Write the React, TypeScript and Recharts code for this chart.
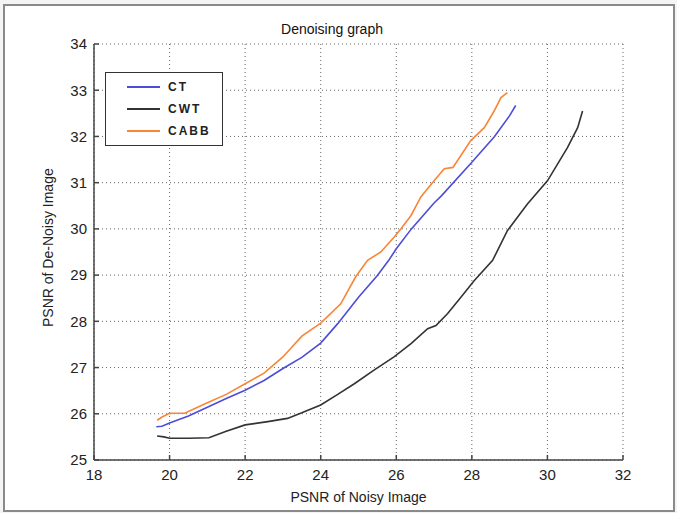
import React from "react";
import {
  LineChart,
  Line,
  XAxis,
  YAxis,
  CartesianGrid,
} from "recharts";

// values (PSNR in dB)
const ctX = [19.65, 19.8, 20, 20.5, 21, 21.5, 22, 22.5, 23, 23.5, 24, 24.45, 25, 25.5, 25.8, 26, 26.4, 27, 27.2, 28, 28.6, 29, 29.16];
const ctY = [25.72, 25.73, 25.8, 25.95, 26.14, 26.33, 26.51, 26.72, 26.98, 27.22, 27.53, 27.95, 28.52, 28.99, 29.32, 29.57, 30.0, 30.56, 30.72, 31.44, 32.0, 32.45, 32.67];

const cwtX = [19.67, 19.85, 20, 20.5, 21.04, 21.5, 22, 22.6, 23.12, 23.5, 24, 24.45, 24.89, 25.4, 25.94, 26.39, 26.83, 27.05, 27.36, 27.71, 28.06, 28.55, 28.94, 29.47, 30.0, 30.53, 30.8, 30.93];
const cwtY = [25.52, 25.5, 25.47, 25.47, 25.48, 25.62, 25.76, 25.83, 25.9, 26.02, 26.19, 26.42, 26.65, 26.94, 27.23, 27.52, 27.84, 27.91, 28.17, 28.52, 28.88, 29.32, 29.96, 30.54, 31.04, 31.76, 32.19, 32.55];

const cabbX = [19.67, 19.8, 20, 20.4, 21, 21.5, 22, 22.5, 23, 23.5, 24, 24.53, 24.93, 25.24, 25.59, 25.94, 26.12, 26.39, 26.65, 27.0, 27.27, 27.5, 27.97, 28.33, 28.59, 28.77, 28.94];
const cabbY = [25.86, 25.93, 26.01, 26.01, 26.24, 26.42, 26.65, 26.88, 27.23, 27.68, 27.96, 28.38, 28.97, 29.32, 29.5, 29.82, 30.0, 30.29, 30.69, 31.04, 31.3, 31.33, 31.91, 32.19, 32.55, 32.84, 32.95];

const xTicks = [18, 20, 22, 24, 26, 28, 30, 32];
const yTicks = [25, 26, 27, 28, 29, 30, 31, 32, 33, 34];

const seriesNames = ["CT", "CWT", "CABB"];
const seriesColors = ["#4c4cd8", "#333333", "#f98536"];

const toPoints = (xs: number[], ys: number[]) => xs.map((x, i) => ({ x, y: ys[i] }));

const ctData = toPoints(ctX, ctY);
const cwtData = toPoints(cwtX, cwtY);
const cabbData = toPoints(cabbX, cabbY);

const FONT = "'Liberation Sans', Arial, sans-serif";

function LegendBox() {
  return (
    <div
      style={{
        position: "absolute",
        left: 105,
        top: 72,
        border: "1.5px solid #333",
        background: "#fff",
        width: 118,
        height: 74,
        boxSizing: "border-box",
        padding: "3px 0 0 21px",
        fontFamily: FONT,
      }}
    >
      {seriesNames.map((n, i) => (
        <div key={n} style={{ display: "flex", alignItems: "center", height: 22 }}>
          <span style={{ display: "inline-block", width: 33, height: 0, borderTop: `2px solid ${seriesColors[i]}` }} />
          <span style={{ marginLeft: 8, fontSize: 12, fontWeight: "bold", letterSpacing: 2, color: "#222" }}>{n}</span>
        </div>
      ))}
    </div>
  );
}

export default function App() {
  return (
    <div
      style={{
        position: "absolute",
        left: 0,
        top: 0,
        width: 677,
        height: 513,
        background: "#f4f4f4",
      }}
    >
      <div
        style={{
          position: "absolute",
          left: 3,
          top: 4,
          width: 668,
          height: 504,
          border: "2px solid #8a8a8a",
          background: "#fff",
        }}
      />
      <div
        style={{
          position: "absolute",
          left: 0,
          top: 21,
          width: 664,
          textAlign: "center",
          fontFamily: FONT,
          fontSize: 14,
          color: "#111",
        }}
      >
        Denoising graph
      </div>
      <div style={{ position: "absolute", left: 0, top: 0 }}>
        <LineChart width={677} height={513} margin={{ top: 44, right: 54, bottom: 23, left: 34 }}>
          <CartesianGrid stroke="#666" strokeDasharray="1 3" />
          <XAxis
            type="number"
            dataKey="x"
            domain={[18, 32]}
            ticks={xTicks}
            height={30}
            allowDataOverflow
            stroke="#444"
            strokeWidth={1.5}
            tickSize={-5}
            tickMargin={14}
            tick={{ fill: "#222", fontSize: 15, fontFamily: FONT }}
            label={{ value: "PSNR of Noisy Image", position: "insideBottom", offset: -12, fill: "#222", fontSize: 14, fontFamily: FONT }}
          />
          <YAxis
            type="number"
            dataKey="y"
            domain={[25, 34]}
            ticks={yTicks}
            width={60}
            allowDataOverflow
            stroke="#444"
            strokeWidth={1.5}
            tickSize={-5}
            tickMargin={12}
            tick={{ fill: "#222", fontSize: 15, fontFamily: FONT }}
            label={{ value: "PSNR of De-Noisy Image", angle: -90, position: "insideLeft", offset: 14, dy: 75, fill: "#222", fontSize: 14, fontFamily: FONT }}
          />
          <Line data={ctData} dataKey="y" name="CT" type="linear" stroke={seriesColors[0]} strokeWidth={1.6} dot={false} isAnimationActive={false} />
          <Line data={cwtData} dataKey="y" name="CWT" type="linear" stroke={seriesColors[1]} strokeWidth={1.6} dot={false} isAnimationActive={false} />
          <Line data={cabbData} dataKey="y" name="CABB" type="linear" stroke={seriesColors[2]} strokeWidth={1.6} dot={false} isAnimationActive={false} />
        </LineChart>
      </div>
      <LegendBox />
    </div>
  );
}
